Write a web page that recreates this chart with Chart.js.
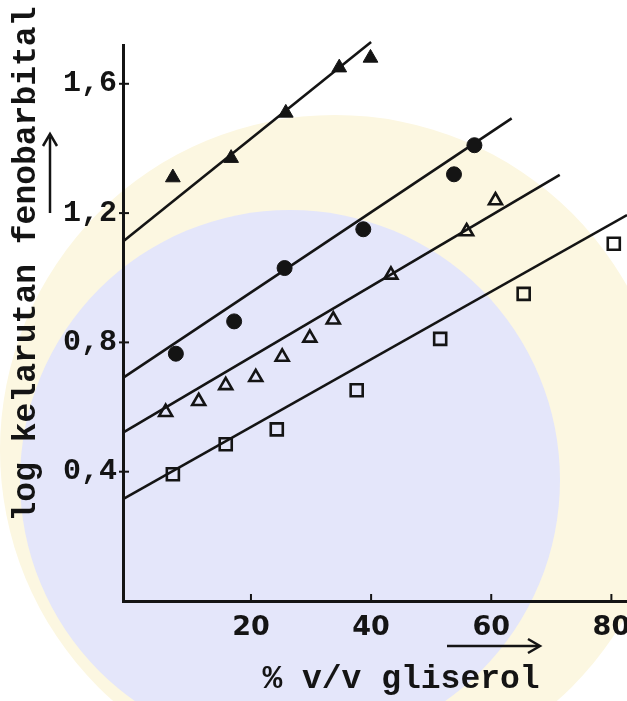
<!DOCTYPE html>
<html>
<head>
<meta charset="utf-8">
<script src="https://cdn.jsdelivr.net/npm/chart.js@4.4.1/dist/chart.umd.min.js"></script>
<style>
  html, body { margin: 0; padding: 0; background: #fff; }
  #wrap { width: 627px; height: 701px; }
</style>
</head>
<body>
<div id="wrap"><canvas id="chart" width="627" height="701"></canvas></div>
<script>
// Values
const xTickValues = [20, 40, 60, 80];
const xTickLabels = ['20', '40', '60', '80'];
const yTickValues = [0.4, 0.8, 1.2, 1.6];
const yTickLabels = ['0,4', '0,8', '1,2', '1,6'];

// filled triangles
const triFilledX = [7.0, 16.7, 25.8, 34.7, 39.9];
const triFilledY = [1.31, 1.37, 1.51, 1.65, 1.68];
// filled circles
const circleX = [7.5, 17.2, 25.6, 38.7, 53.8, 57.2];
const circleY = [0.765, 0.865, 1.03, 1.15, 1.32, 1.41];
// open triangles
const triOpenX = [5.8, 11.3, 15.8, 20.8, 25.2, 29.8, 33.7, 43.3, 55.9, 60.7];
const triOpenY = [0.584, 0.618, 0.667, 0.692, 0.755, 0.814, 0.870, 1.009, 1.143, 1.239];
// open squares
const squareX = [7.0, 15.8, 24.3, 37.6, 51.5, 65.4, 80.4];
const squareY = [0.392, 0.485, 0.531, 0.652, 0.811, 0.950, 1.105];

// fitted straight lines (start / end as drawn)
const lineTriFilledX = [-1.3, 40.0];
const lineTriFilledY = [1.112, 1.729];
const lineCircleX = [-1.3, 63.4];
const lineCircleY = [0.690, 1.493];
const lineTriOpenX = [-1.3, 71.4];
const lineTriOpenY = [0.521, 1.318];
const lineSquareX = [-1.3, 82.6];
const lineSquareY = [0.315, 1.194];

const yTitle = 'log kelarutan fenobarbital';
const xTitle = '% v/v gliserol';

const ink = '#141414';
const monoFont = '"Liberation Mono", "DejaVu Sans Mono", monospace';

function pts(xs, ys) {
    return xs.map((x, i) => ({ x: x, y: ys[i] }));
}

function fitLine(xs, ys) {
    return {
        data: pts(xs, ys),
        showLine: true,
        borderColor: ink,
        borderWidth: 2.6,
        pointRadius: 0,
        clip: false,
        order: 2
    };
}

function markers(xs, ys, style, radius, filled) {
    return {
        data: pts(xs, ys),
        showLine: false,
        pointStyle: style,
        pointRadius: radius,
        pointBackgroundColor: filled ? ink : 'rgba(0,0,0,0)',
        pointBorderColor: ink,
        pointBorderWidth: filled ? 1 : 2.6,
        clip: false,
        order: 1
    };
}

// faint seal in the background of the scan
const watermark = {
    id: 'watermark',
    beforeDraw(chart) {
        const ctx = chart.ctx;
        ctx.save();
        ctx.fillStyle = '#ffffff';
        ctx.fillRect(0, 0, chart.width, chart.height);
        ctx.fillStyle = '#fcf7e1';
        ctx.beginPath();
        ctx.arc(335, 450, 335, 0, Math.PI * 2);
        ctx.fill();
        ctx.fillStyle = '#e4e6fa';
        ctx.beginPath();
        ctx.arc(290, 480, 270, 0, Math.PI * 2);
        ctx.fill();
        ctx.restore();
    }
};

// inward tick marks, axis titles and arrows
const decorations = {
    id: 'decorations',
    afterDraw(chart) {
        const ctx = chart.ctx;
        const xs = chart.scales.x;
        const ys = chart.scales.y;
        const area = chart.chartArea;
        ctx.save();
        ctx.strokeStyle = ink;
        ctx.fillStyle = ink;
        ctx.lineWidth = 2;
        yTickValues.forEach(v => {
            const py = ys.getPixelForValue(v);
            ctx.beginPath();
            ctx.moveTo(area.left - 4, py);
            ctx.lineTo(area.left + 6, py);
            ctx.stroke();
        });
        xTickValues.forEach(v => {
            const px = xs.getPixelForValue(v);
            ctx.beginPath();
            ctx.moveTo(px, area.bottom);
            ctx.lineTo(px, area.bottom - 7);
            ctx.stroke();
        });

        ctx.textAlign = 'center';
        ctx.textBaseline = 'middle';
        ctx.font = 'bold 33px ' + monoFont;
        ctx.fillText(xTitle, 401, 680);

        ctx.save();
        ctx.translate(27, 264);
        ctx.rotate(-Math.PI / 2);
        ctx.fillText(yTitle, 0, 0);
        ctx.restore();

        ctx.lineWidth = 2.5;
        // arrow next to y title
        ctx.beginPath();
        ctx.moveTo(50, 213);
        ctx.lineTo(50, 137);
        ctx.stroke();
        ctx.beginPath();
        ctx.moveTo(43, 146);
        ctx.lineTo(50, 134);
        ctx.lineTo(57, 146);
        ctx.stroke();
        // arrow under x labels
        ctx.beginPath();
        ctx.moveTo(447, 646);
        ctx.lineTo(538, 646);
        ctx.stroke();
        ctx.beginPath();
        ctx.moveTo(528, 639);
        ctx.lineTo(540, 646);
        ctx.lineTo(528, 653);
        ctx.stroke();
        ctx.restore();
    }
};

new Chart(document.getElementById('chart'), {
    type: 'scatter',
    data: {
        datasets: [
            fitLine(lineTriFilledX, lineTriFilledY),
            fitLine(lineCircleX, lineCircleY),
            fitLine(lineTriOpenX, lineTriOpenY),
            fitLine(lineSquareX, lineSquareY),
            markers(triFilledX, triFilledY, 'triangle', 8.5, true),
            markers(circleX, circleY, 'circle', 7.5, true),
            markers(triOpenX, triOpenY, 'triangle', 7.5, false),
            markers(squareX, squareY, 'rect', 8.5, false)
        ]
    },
    options: {
        responsive: false,
        animation: false,
        layout: { autoPadding: false, padding: { top: 45, right: 0, bottom: 0, left: 0 } },
        plugins: {
            legend: { display: false },
            tooltip: { enabled: false }
        },
        scales: {
            x: {
                type: 'linear',
                min: -1.3,
                max: 82.6,
                afterBuildTicks: s => { s.ticks = xTickValues.map(v => ({ value: v })); },
                ticks: {
                    callback: (v, i) => xTickLabels[i],
                    font: { family: '"DejaVu Sans", sans-serif', size: 27, weight: 'bold' },
                    color: ink,
                    padding: 11,
                    maxRotation: 0,
                    autoSkip: false
                },
                grid: { display: false, drawTicks: false },
                border: { display: true, color: ink, width: 3 },
                afterFit: s => { s.height = 100; s.paddingLeft = 0; s.paddingRight = 0; }
            },
            y: {
                type: 'linear',
                min: 0,
                max: 1.72,
                afterBuildTicks: s => { s.ticks = yTickValues.map(v => ({ value: v })); },
                ticks: {
                    callback: (v, i) => yTickLabels[i],
                    font: { family: monoFont, size: 30, weight: 'bold' },
                    color: ink,
                    padding: 6
                },
                grid: { display: false, drawTicks: false },
                border: { display: true, color: ink, width: 3 },
                afterFit: s => { s.width = 123; s.paddingTop = 0; s.paddingBottom = 0; }
            }
        }
    },
    plugins: [watermark, decorations]
});
</script>
</body>
</html>
